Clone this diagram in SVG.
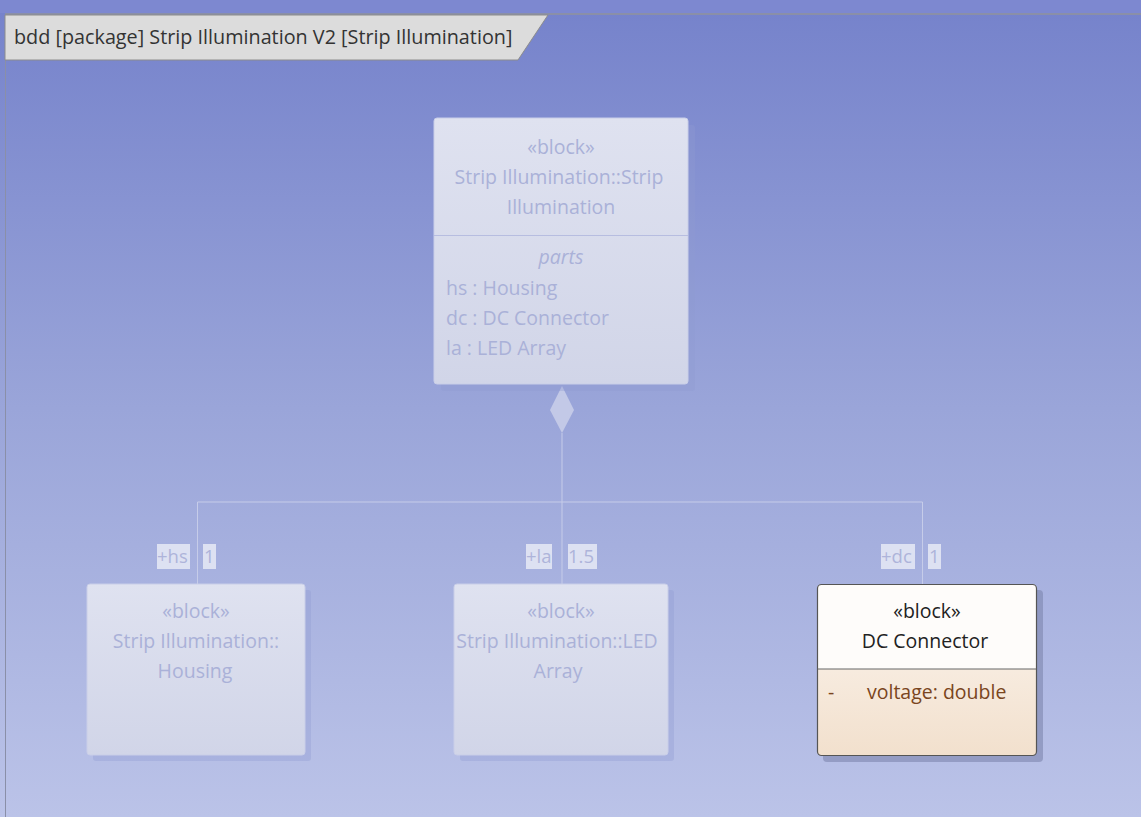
<svg xmlns="http://www.w3.org/2000/svg" width="1141" height="817" viewBox="0 0 1141 817">
<defs>
<linearGradient id="bg" x1="0" y1="0" x2="0" y2="1">
<stop offset="0" stop-color="#7582cb"/>
<stop offset="0.5" stop-color="#9aa5d9"/>
<stop offset="1" stop-color="#bbc3e8"/>
</linearGradient>
<linearGradient id="fade" x1="0" y1="0" x2="0" y2="1">
<stop offset="0" stop-color="#dfe2f0"/>
<stop offset="1" stop-color="#d1d5e8"/>
</linearGradient>
<linearGradient id="body" x1="0" y1="0" x2="0" y2="1">
<stop offset="0" stop-color="#fcf6f0"/>
<stop offset="1" stop-color="#f2e0cd"/>
</linearGradient>
<style>
text{font-family:"Open Sans","Noto Sans","DejaVu Sans",sans-serif;font-size:19.5px}
.ft{fill:#aab1d8}
.ct{text-anchor:middle}
.fbox{fill:url(#fade);stroke:#c9cee8;stroke-width:1}
.fsh{fill:#8f9ad2;opacity:0.35}
.conn{stroke:#c6cce9;stroke-width:1;fill:none}
.lbl{fill:#dde1f2}
.lt{fill:#aeb4da;font-size:18.5px}
</style>
</defs>
<rect x="0" y="0" width="1141" height="817" fill="url(#bg)"/>
<rect x="0" y="0" width="1141" height="13" fill="#7d88d0"/>
<line x1="5" y1="14" x2="1141" y2="14" stroke="#8a8fa8" stroke-width="2"/>
<line x1="5.5" y1="14" x2="5.5" y2="817" stroke="#8a8fa8" stroke-width="1"/>
<g id="frame-tab">
<polygon points="5,15 548,15 518,60 5,60" fill="#dcdcdc" stroke="#8c8c8c" stroke-width="1"/>
<text x="14" y="44" style="fill:#333;font-size:19.8px">bdd [package] Strip Illumination V2 [Strip Illumination]</text>
</g>
<g id="connectors">
<line class="conn" x1="562" y1="433" x2="562" y2="584"/>
<polyline class="conn" points="197.5,584 197.5,502 922.5,502 922.5,584"/>
<polygon points="562,386 574,410 562,433 550,410" fill="#c3c9e7"/>
<rect class="lbl" x="157" y="544" width="33" height="25"/>
<text class="lt" x="157" y="563">+hs</text>
<rect class="lbl" x="203" y="544" width="13" height="25"/>
<text class="lt" x="204" y="563">1</text>
<rect class="lbl" x="526" y="544" width="26" height="25"/>
<text class="lt" x="526" y="563">+la</text>
<rect class="lbl" x="568" y="544" width="29" height="25"/>
<text class="lt" x="568" y="563">1.5</text>
<rect class="lbl" x="881" y="544" width="34" height="25"/>
<text class="lt" x="881" y="563">+dc</text>
<rect class="lbl" x="928" y="544" width="13" height="25"/>
<text class="lt" x="929" y="563">1</text>
</g>
<g id="strip-illumination">
<rect class="fsh" x="441" y="125" width="254" height="266" rx="3"/>
<rect class="fbox" x="434" y="118" width="254" height="266" rx="3"/>
<line x1="434" y1="235.5" x2="688" y2="235.5" stroke="#b7bde0" stroke-width="1"/>
<text class="ft ct" x="561" y="154">«block»</text>
<text class="ft ct" x="559" y="184">Strip Illumination::Strip</text>
<text class="ft ct" x="561" y="214">Illumination</text>
<text class="ft ct" x="561" y="264" font-style="italic">parts</text>
<text class="ft" x="446" y="295">hs : Housing</text>
<text class="ft" x="446" y="325">dc : DC Connector</text>
<text class="ft" x="446" y="355">la : LED Array</text>
</g>
<g id="housing">
<rect class="fsh" x="93" y="590" width="218" height="171" rx="3"/>
<rect class="fbox" x="87" y="584" width="218" height="171" rx="3"/>
<text class="ft ct" x="196" y="618">«block»</text>
<text class="ft ct" x="196" y="648">Strip Illumination::</text>
<text class="ft ct" x="195" y="678">Housing</text>
</g>
<g id="led-array">
<rect class="fsh" x="460" y="590" width="214" height="171" rx="3"/>
<rect class="fbox" x="454" y="584" width="214" height="171" rx="3"/>
<text class="ft ct" x="561" y="618">«block»</text>
<text class="ft ct" x="557" y="648">Strip Illumination::LED</text>
<text class="ft ct" x="558" y="678">Array</text>
</g>
<g id="dc-connector">
<rect x="823" y="590" width="220" height="172" rx="4" fill="#7d85ad" opacity="0.6"/>
<rect x="817.5" y="584.5" width="219" height="171" rx="4" fill="url(#body)"/>
<path d="M817.5,669 V588.5 a4,4 0 0 1 4,-4 H1032.5 a4,4 0 0 1 4,4 V669 Z" fill="#fefcfa"/>
<rect x="817.5" y="584.5" width="219" height="171" rx="4" fill="none" stroke="#555" stroke-width="1.2"/>
<line x1="817.5" y1="669" x2="1036.5" y2="669" stroke="#666" stroke-width="1"/>
<text class="ct" x="927" y="618" fill="#222">«block»</text>
<text class="ct" x="925" y="648" fill="#222">DC Connector</text>
<text x="828" y="699" fill="#7a4520">-</text>
<text x="867" y="699" fill="#7a4520">voltage: double</text>
</g>
</svg>
